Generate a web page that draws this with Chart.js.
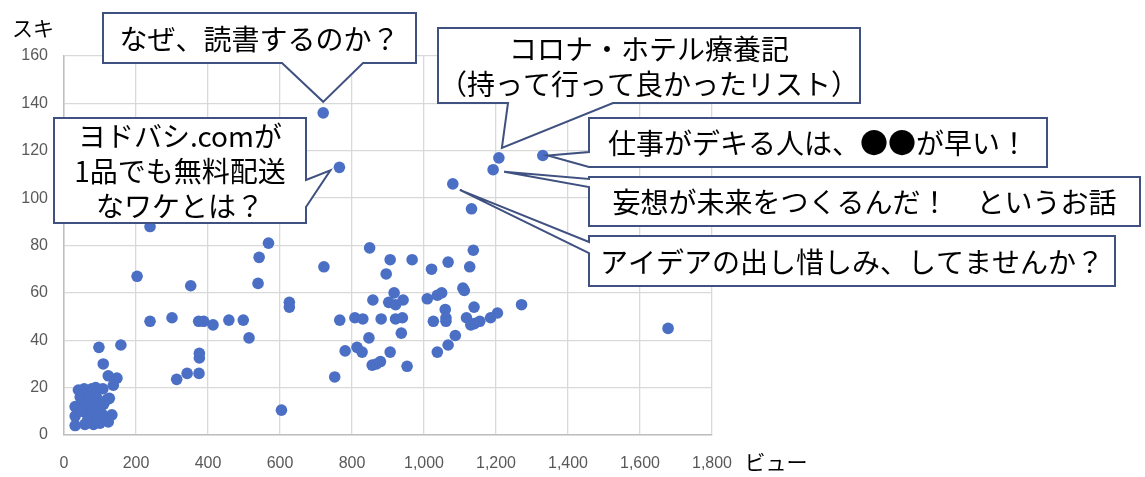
<!DOCTYPE html>
<html>
<head>
<meta charset="utf-8">
<script src="https://cdn.jsdelivr.net/npm/chart.js@4.4.0/dist/chart.umd.min.js"></script>
<style>
html, body { margin: 0; padding: 0; background: #fff; }
#wrap { width: 1145px; height: 477px; position: relative; }
</style>
</head>
<body>
<div id="wrap"><canvas id="chart"></canvas></div>
<script>
// --- data ---
// first six points are the ones with callouts
const views = [
    720, 765, 1208, 1330, 1192, 1080,
    1132, 239, 568, 542, 722, 352, 539, 626, 626, 203,
    239, 300, 374, 388, 414, 458, 498, 514, 766, 781, 752, 376, 376, 313, 342, 375, 604,
    849, 906, 967, 895, 1137, 1067, 1021, 1127, 917, 858, 902, 921, 942, 1009, 1037, 1049, 1108, 1112, 1059, 1139, 1271,
    808, 830, 881, 921, 940, 1026, 1061, 1061, 1118, 1130, 1140, 1155, 1185, 1204,
    847, 937, 814, 828, 906, 856, 868, 879, 953, 1087, 1067, 1037, 1678,
    97, 158, 109, 123, 147, 137, 108, 40, 56, 77, 126, 31, 54, 82, 100, 31, 133, 123, 31, 58, 82, 100, 63, 77, 91,
    45, 70, 90, 110, 120, 70, 88, 65, 105, 50
];
const likes = [
    136, 113, 117, 118, 112, 106,
    95.5, 88, 81, 75, 71, 63, 64, 56, 54, 67,
    48, 49.5, 48, 48, 46.5, 48.5, 48.5, 41, 48.5, 35.5, 24.5, 34.5, 32.5, 23.5, 26, 26, 10.5,
    79, 74, 74, 68, 78, 73, 70, 71, 60, 57, 56, 55, 57, 57.5, 59, 60, 62, 61, 53, 54, 55,
    49.5, 49, 49, 49, 49.5, 48, 48, 49.5, 49.5, 46.5, 47, 48, 49.5, 51.5,
    41, 43, 37, 35, 35, 29.5, 30, 31, 29, 42, 38, 35, 45,
    37, 38, 30, 25, 24, 21, 19.5, 19, 19.5, 19.5, 15.5, 12, 14, 12.5, 12, 8, 8.5, 5.5, 4, 4.5, 4.5, 5, 9, 8, 9,
    16, 16, 16, 13, 15, 11, 20, 6, 9, 10
];

const xTitle = 'ビュー';
const yTitle = 'スキ';
const xRange = [0, 1800, 200];
const yRange = [0, 160, 20];

const calloutTexts = [
    ['なぜ、読書するのか？'],
    ['ヨドバシ.comが', '1品でも無料配送', 'なワケとは？'],
    ['コロナ・ホテル療養記', '（持って行って良かったリスト）'],
    ['仕事がデキる人は、●●が早い！'],
    ['妄想が未来をつくるんだ！　というお話'],
    ['アイデアの出し惜しみ、してませんか？']
];

// box placement in canvas px, wedge side/base, tip offset from the point
const calloutLayout = [
    { box: [103, 13, 416, 63],   side: 'bottom', base: [282, 363], dx: 0,  dy: -11 },
    { box: [54, 118, 306, 223],  side: 'right',  base: [180, 207], dx: -9, dy: 3 },
    { box: [438, 28, 860, 103],  side: 'bottom', base: [508, 613], dx: 3,  dy: -10 },
    { box: [589, 118, 1047, 167], side: 'left',  base: [152, 167], dx: 5,  dy: 0 },
    { box: [589, 177, 1140, 226], side: 'left',  base: [179, 187], dx: 11, dy: 2 },
    { box: [589, 236, 1115, 286], side: 'left',  base: [242, 253], dx: 7,  dy: 6 }
];

const points = views.map((v, i) => ({ x: v, y: likes[i] }));

const jpFont = '"Noto Sans CJK JP", "Noto Sans", sans-serif';
const numFont = '"Liberation Sans", Arial, sans-serif';

const calloutPlugin = {
    id: 'callouts',
    afterDraw(chart) {
        const { ctx, scales: { x, y } } = chart;
        ctx.save();

        // axis titles
        ctx.fillStyle = '#000';
        ctx.font = '21px ' + jpFont;
        ctx.textAlign = 'center';
        ctx.textBaseline = 'middle';
        ctx.fillText(yTitle, 33, 28);
        ctx.fillText(xTitle, 776, 462);

        calloutLayout.forEach((c, i) => {
            const tx = x.getPixelForValue(views[i]) + c.dx;
            const ty = y.getPixelForValue(likes[i]) + c.dy;
            const [l, t, r, b] = c.box;
            const [a1, a2] = c.base;

            ctx.beginPath();
            ctx.moveTo(l, t);
            ctx.lineTo(r, t);
            if (c.side === 'right') {
                ctx.lineTo(r, a1); ctx.lineTo(tx, ty); ctx.lineTo(r, a2);
            }
            ctx.lineTo(r, b);
            if (c.side === 'bottom') {
                ctx.lineTo(a2, b); ctx.lineTo(tx, ty); ctx.lineTo(a1, b);
            }
            ctx.lineTo(l, b);
            if (c.side === 'left') {
                ctx.lineTo(l, a2); ctx.lineTo(tx, ty); ctx.lineTo(l, a1);
            }
            ctx.closePath();
            ctx.fillStyle = '#fff';
            ctx.fill();
            ctx.lineWidth = 2;
            ctx.strokeStyle = '#3f5180';
            ctx.lineJoin = 'miter';
            ctx.stroke();

            const lines = calloutTexts[i];
            const lh = 35;
            const cx = (l + r) / 2;
            const cy = (t + b) / 2 + 1;
            ctx.fillStyle = '#000';
            ctx.font = '28px ' + jpFont;
            lines.forEach((txt, k) => {
                ctx.fillText(txt, cx, cy + (k - (lines.length - 1) / 2) * lh);
            });
        });
        ctx.restore();
    }
};

new Chart(document.getElementById('chart'), {
    type: 'scatter',
    data: {
        datasets: [{
            data: points,
            backgroundColor: '#4a6fc4',
            borderColor: '#4a6fc4',
            borderWidth: 0,
            pointRadius: 5.8,
            pointHoverRadius: 5.8
        }]
    },
    options: {
        responsive: true,
        maintainAspectRatio: false,
        animation: false,
        events: [],
        layout: { padding: { left: 0, top: 56, right: 433, bottom: 0 } },
        plugins: { legend: { display: false }, tooltip: { enabled: false } },
        scales: {
            x: {
                type: 'linear',
                min: xRange[0], max: xRange[1],
                afterFit: s => { s.height = 42; },
                ticks: {
                    stepSize: xRange[2],
                    padding: 19,
                    color: '#595959',
                    font: { family: numFont, size: 16 },
                    callback: v => v.toLocaleString('en-US')
                },
                grid: { color: '#d9d9d9', lineWidth: 1.3, drawTicks: false },
                border: { color: '#bfbfbf', width: 1.5 }
            },
            y: {
                type: 'linear',
                min: yRange[0], max: yRange[1],
                afterFit: s => { s.width = 64; },
                ticks: {
                    stepSize: yRange[2],
                    padding: 16,
                    color: '#595959',
                    font: { family: numFont, size: 16 }
                },
                grid: { color: '#d9d9d9', lineWidth: 1.3, drawTicks: false },
                border: { color: '#bfbfbf', width: 1.5 }
            }
        }
    },
    plugins: [calloutPlugin]
});
</script>
</body>
</html>
